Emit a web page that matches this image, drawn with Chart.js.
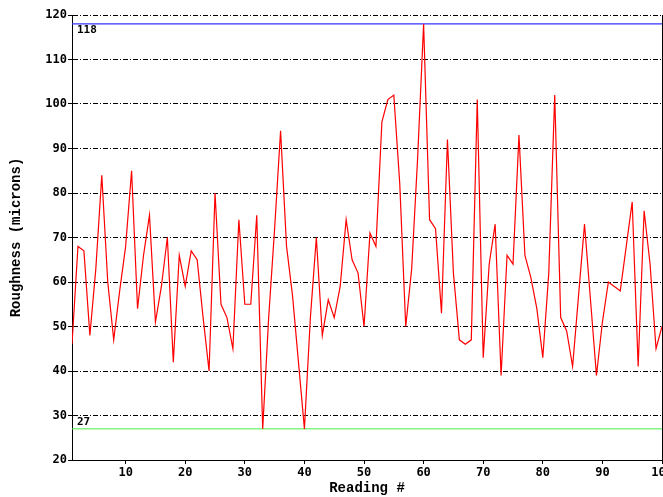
<!DOCTYPE html>
<html>
  <head>
    <meta charset="utf-8"/>
    <style>
      html, body { margin: 0; padding: 0; background: #fff; }
      #holder { width: 663px; height: 497px; }
    </style>
  </head>
  <body>
    <div id="holder">
        <canvas id="chart-area"></canvas>
    </div>

    <script src="https://cdn.jsdelivr.net/npm/chart.js@4.4.1/dist/chart.umd.min.js"></script>
    <script>
        // Roughness readings 1..100
        var roughness = [
            46, 68, 67, 48, 63, 84, 60, 47, 58, 68,
            85, 54, 66, 75, 51, 59, 70, 42, 66, 59,
            67, 65, 52, 40, 80, 55, 52, 45, 74, 55,
            55, 75, 27, 52, 72, 94, 68, 57, 42, 27,
            52, 70, 48, 56, 52, 59, 74, 65, 62, 50,
            71, 68, 96, 101, 102, 82, 50, 63, 88, 118,
            74, 72, 53, 92, 62, 47, 46, 47, 101, 43,
            64, 73, 39, 66, 64, 93, 66, 61, 54, 43,
            62, 102, 52, 49, 41, 57, 73, 56, 39, 51,
            60, 59, 58, 68, 78, 41, 76, 64, 45, 50
        ];
        var xTicks = [10, 20, 30, 40, 50, 60, 70, 80, 90, 100];
        var yTicks = [20, 30, 40, 50, 60, 70, 80, 90, 100, 110, 120];
        var maxLine = 118;
        var minLine = 27;

        var points = [];
        var i;
        for (i = 0; i < roughness.length; i++) {
            points.push({x: i + 1, y: roughness[i]});
        }
        var lastReading = roughness.length;

        // labels for the max / min lines and the right hand border
        var extras = {
            id: 'extras',
            afterDatasetsDraw: function(chart) {
                var ctx = chart.ctx;
                var area = chart.chartArea;
                var y = chart.scales.y;
                ctx.save();
                ctx.strokeStyle = '#000';
                ctx.lineWidth = 1;
                ctx.beginPath();
                ctx.moveTo(area.right + 0.5, area.top);
                ctx.lineTo(area.right + 0.5, area.bottom);
                ctx.stroke();

                ctx.fillStyle = '#000';
                ctx.font = 'bold 11px "DejaVu Sans Mono"';
                ctx.textAlign = 'left';
                ctx.textBaseline = 'top';
                ctx.fillText(String(maxLine), area.left + 5, y.getPixelForValue(maxLine) + 1);
                ctx.textBaseline = 'bottom';
                ctx.fillText(String(minLine), area.left + 5, y.getPixelForValue(minLine) - 1);
                ctx.restore();
            }
        };

        var tickFont = {family: '"DejaVu Sans Mono"', size: 12, weight: 'bold'};
        var titleFont = {family: '"Liberation Mono"', size: 14, weight: 'bold'};

        var ctx = document.getElementById('chart-area').getContext('2d');
        var chart = new Chart(ctx, {
            type: 'line',
            data: {
                datasets: [{
                    label: 'Roughness',
                    data: points,
                    borderColor: '#ff0000',
                    borderWidth: 1.2,
                    pointRadius: 0,
                    tension: 0,
                    order: 1
                }, {
                    label: 'Max',
                    data: [{x: 1, y: maxLine}, {x: lastReading, y: maxLine}],
                    borderColor: '#3333ff',
                    borderWidth: 1.2,
                    pointRadius: 0,
                    order: 2
                }, {
                    label: 'Min',
                    data: [{x: 1, y: minLine}, {x: lastReading, y: minLine}],
                    borderColor: '#44ee44',
                    borderWidth: 1,
                    pointRadius: 0,
                    order: 2
                }]
            },
            options: {
                responsive: true,
                maintainAspectRatio: false,
                animation: false,
                events: [],
                layout: {padding: {top: 15, right: 1, left: 0, bottom: 0}},
                plugins: {
                    legend: {display: false},
                    tooltip: {enabled: false}
                },
                scales: {
                    x: {
                        type: 'linear',
                        min: 1,
                        max: lastReading,
                        afterBuildTicks: function(scale) {
                            scale.ticks = xTicks.map(function(v) { return {value: v}; });
                        },
                        afterFit: function(scale) {
                            scale.height = 37;
                            scale.paddingLeft = 0;
                            scale.paddingRight = 0;
                        },
                        grid: {
                            drawOnChartArea: false,
                            drawTicks: true,
                            tickLength: 4,
                            color: '#000',
                            tickColor: '#000'
                        },
                        border: {color: '#000', width: 1},
                        ticks: {color: '#000', font: tickFont, padding: 2, maxRotation: 0, autoSkip: false},
                        title: {
                            display: true,
                            text: 'Reading #',
                            color: '#000',
                            font: titleFont,
                            padding: {top: 0, bottom: 0}
                        }
                    },
                    y: {
                        min: 20,
                        max: 120,
                        afterBuildTicks: function(scale) {
                            scale.ticks = yTicks.map(function(v) { return {value: v}; });
                        },
                        afterFit: function(scale) { scale.width = 72; },
                        grid: {
                            color: '#000',
                            lineWidth: 1,
                            tickLength: 4,
                            tickColor: '#000',
                            tickBorderDash: []
                        },
                        border: {color: '#000', width: 1, dash: [5, 2, 1, 2]},
                        ticks: {color: '#000', font: tickFont, padding: 1},
                        title: {
                            display: true,
                            text: 'Roughness (microns)',
                            color: '#000',
                            font: titleFont,
                            padding: {top: 8, bottom: 0}
                        }
                    }
                }
            },
            plugins: [extras]
        });
    </script>
    </body>
</html>
